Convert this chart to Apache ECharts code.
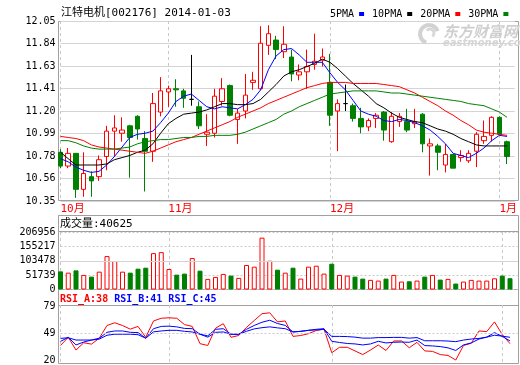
<!DOCTYPE html>
<html><head><meta charset="utf-8">
<script src="https://cdn.jsdelivr.net/npm/echarts@6/dist/echarts.min.js"></script>
<style>html,body{margin:0;padding:0;background:#fff}#c{width:520px;height:365px}</style>
</head><body><div id="c"></div>
<script>
const stockTitle = '江特电机[002176] 2014-01-03';
const dates = ['2013-10-14','2013-10-15','2013-10-16','2013-10-17','2013-10-18','2013-10-21','2013-10-22','2013-10-23','2013-10-24','2013-10-25','2013-10-28','2013-10-29','2013-10-30','2013-10-31',
'2013-11-01','2013-11-04','2013-11-05','2013-11-06','2013-11-07','2013-11-08','2013-11-11','2013-11-12','2013-11-13','2013-11-14','2013-11-15','2013-11-18','2013-11-19','2013-11-20','2013-11-21','2013-11-22','2013-11-25','2013-11-26','2013-11-27','2013-11-28','2013-11-29',
'2013-12-02','2013-12-03','2013-12-04','2013-12-05','2013-12-06','2013-12-09','2013-12-10','2013-12-11','2013-12-12','2013-12-13','2013-12-16','2013-12-17','2013-12-18','2013-12-19','2013-12-20','2013-12-23','2013-12-24','2013-12-25','2013-12-26','2013-12-27','2013-12-30','2013-12-31',
'2014-01-02','2014-01-03'];
const opens  = [10.81,10.68,10.80,10.46,10.58,10.58,10.77,11.01,10.99,11.06,11.15,10.94,10.82,11.19,11.38,11.41,11.39,11.31,11.24,10.98,10.99,11.29,11.44,11.12,11.20,11.47,11.41,11.82,11.87,11.76,11.71,11.54,11.57,11.64,11.68,11.47,11.20,11.27,11.25,11.13,11.05,11.13,11.19,10.91,11.10,11.10,11.08,11.17,10.87,10.87,10.69,10.79,10.76,10.73,10.82,10.92,10.97,11.14,10.91];
const closes = [10.68,10.80,10.46,10.61,10.54,10.74,11.01,11.04,11.02,10.95,11.03,10.82,11.27,11.39,11.41,11.40,11.32,11.31,11.06,11.00,11.34,11.41,11.16,11.18,11.35,11.49,11.84,11.93,11.78,11.83,11.55,11.57,11.62,11.67,11.71,11.16,11.27,11.27,11.13,11.05,11.11,11.16,11.02,11.15,11.15,11.02,11.10,10.89,10.89,10.81,10.79,10.66,10.78,10.80,10.98,10.96,11.14,10.98,10.77];
const lows   = [10.66,10.66,10.38,10.39,10.39,10.54,10.64,10.77,10.91,10.57,10.93,10.44,10.72,11.15,11.24,11.24,11.23,11.25,11.03,10.87,10.95,11.25,11.15,10.89,11.13,11.40,11.40,11.73,11.69,11.70,11.48,11.49,11.41,11.59,11.62,11.06,10.82,11.20,11.10,10.99,11.01,11.04,10.92,10.90,11.05,11.00,11.04,10.81,10.59,10.64,10.62,10.66,10.72,10.71,10.67,10.89,10.91,10.97,10.70];
const highs  = [10.84,10.85,10.80,10.81,10.63,10.78,11.06,11.16,11.14,11.07,11.16,11.01,11.37,11.52,11.44,11.50,11.41,11.73,11.29,11.17,11.41,11.51,11.45,11.22,11.55,11.57,12.00,12.01,11.91,12.00,11.78,11.64,11.78,11.93,11.79,11.74,11.31,11.45,11.27,11.23,11.13,11.18,11.20,11.19,11.18,11.22,11.22,11.18,10.94,10.89,10.89,10.79,10.83,10.83,11.00,11.11,11.15,11.15,10.92];
const volumes = [65300,60660,68860,52450,46380,64220,120240,102400,64220,60660,74930,78500,130950,134510,73860,53520,57090,113100,67790,38180,45310,56020,49950,41750,88130,82060,186600,103470,71360,60660,78500,39250,82060,85630,57090,92770,52450,49950,46380,39250,34610,32110,39250,52450,28540,29610,32110,46380,52450,35680,38180,21410,28540,34610,32110,32110,40320,49950,40625];
const ma5  = [10.75,10.72,10.67,10.64,10.62,10.63,10.69,10.77,10.86,10.95,10.98,10.99,11.01,11.09,11.18,11.29,11.34,11.36,11.30,11.24,11.22,11.24,11.23,11.22,11.26,11.31,11.40,11.59,11.72,11.78,11.79,11.73,11.66,11.66,11.66,11.56,11.47,11.40,11.30,11.20,11.17,11.15,11.11,11.10,11.12,11.11,11.09,11.06,11.02,10.96,10.89,10.80,10.78,10.76,10.80,10.85,10.92,10.97,10.96];
const ma10 = [10.81,10.75,10.69,10.69,10.69,10.69,10.70,10.74,10.76,10.78,10.81,10.83,10.89,10.99,11.08,11.13,11.17,11.18,11.19,11.21,11.24,11.27,11.27,11.26,11.26,11.27,11.31,11.38,11.45,11.53,11.57,11.59,11.62,11.65,11.69,11.66,11.60,11.53,11.46,11.40,11.34,11.27,11.23,11.18,11.14,11.12,11.10,11.09,11.06,11.03,11.01,10.98,10.94,10.91,10.88,10.87,10.87,10.87,10.87];
const ma20 = [10.96,10.95,10.94,10.92,10.88,10.86,10.85,10.84,10.83,10.82,10.81,10.80,10.82,10.85,10.88,10.91,10.93,10.95,10.98,11.01,11.04,11.07,11.10,11.14,11.17,11.20,11.23,11.27,11.30,11.33,11.36,11.39,11.42,11.44,11.46,11.47,11.47,11.47,11.46,11.46,11.46,11.46,11.45,11.44,11.43,11.40,11.37,11.33,11.29,11.25,11.20,11.16,11.11,11.07,11.02,11.00,10.99,10.98,10.97];
const ma30 = [10.92,10.92,10.90,10.87,10.85,10.84,10.84,10.84,10.85,10.86,10.89,10.91,10.92,10.93,10.93,10.94,10.95,10.95,10.96,10.96,10.97,10.97,10.97,10.98,11.00,11.03,11.06,11.09,11.12,11.17,11.20,11.24,11.27,11.30,11.33,11.36,11.37,11.38,11.39,11.39,11.39,11.39,11.38,11.37,11.37,11.36,11.35,11.34,11.33,11.32,11.31,11.30,11.29,11.27,11.26,11.25,11.22,11.19,11.14];
const rsiA = [36,45,31,39,37.5,44,58,61,58,54,57,45,63,66,66.5,66,59,57,38,36,55,60,45,47,56,63.5,71,72,62,63,46,47,49,52.5,54,28,34,34,30,26,31,36.5,30.5,41,41,33.5,39.5,30,29.5,26,25,20,36,38.5,52,51.3,62,48,38];
const rsiB = [40.5,45,36.6,39.8,42,44,50.5,52,52,50.5,50.2,44,54.5,57,57.3,56.5,54.8,54.5,48.4,46.6,53.8,54.5,48.4,48.4,53.8,58.1,61.6,63.8,60.2,58.1,50.9,51.6,52.7,53.8,54.5,40.6,39.3,38.2,37.7,36.6,37.7,40.6,38.8,39.5,39.8,39.5,42,35.9,35.5,34.8,33.4,30.5,36.6,38.8,43.1,45.2,50.2,46,41];
const rsiC = [43.8,44.5,42,42,42,43,47.3,48.4,48.4,48.4,47.9,44,51,52,52.7,52.7,51.6,50.9,48.4,45.2,50.5,50.9,48.4,48.4,51.6,54.3,55.6,56.5,55.4,54.5,50.9,51.6,52.7,53.2,53.8,46,46,45.8,45.2,44.1,44.1,44.7,44.7,44.9,44.9,44.1,44.7,41.2,41.2,41.2,40.9,40.2,42,43.1,43.8,45.2,47.3,46.3,45];
const priceTicks = [10.35,10.5625,10.775,10.9875,11.2,11.4125,11.625,11.8375,12.05];
const priceTickLabels = ['10.35','10.56','10.78','10.99','11.20','11.41','11.63','11.84','12.05'];
const volTicks = [0,51739,103478,155217,206956];
const rsiTicks = [20,49,79];

const FONT = '"DejaVu Sans Mono","Noto Sans CJK SC",monospace';
const RED = '#ff0000', GREEN = '#008000', BLUE = '#0000ff', BORDER = '#a0a0a0';
const cats = dates.concat(['']);
const monthStart = i => i < dates.length && (i === 0 || dates[i].slice(5,7) !== dates[i-1].slice(5,7));
const candle = dates.map((d,i) => [opens[i], closes[i], lows[i], highs[i]]);
const volData = volumes.map((v,i) => ({
  value: v,
  itemStyle: closes[i] >= opens[i] ? {color:'#ffffff', borderColor:RED, borderWidth:1} : {color:GREEN, borderColor:GREEN, borderWidth:1}
}));
const last = a => a[a.length-1];
const L = 60.5, W = 457.25;

const xBase = (gi, labels) => ({
  type:'category', gridIndex:gi, data:cats, boundaryGap:false,
  axisLine:{show:false}, axisTick:{show:false},
  axisLabel: labels ? {show:true, interval:(i)=>monthStart(i), formatter:(v)=> v ? parseInt(v.slice(5,7),10)+'月' : '',
    color:RED, align:'left', margin:3, fontSize:11, fontFamily:FONT} : {show:false},
  splitLine:{show:true, interval:(i)=>monthStart(i), lineStyle:{type:[3,3], color:'#c8c8c8', width:1}}
});
const lbl = {color:'#000', fontSize:10, fontFamily:FONT, margin:5};

const chart = echarts.init(document.getElementById('c'), null, {renderer:'canvas'});
chart.setOption({
  backgroundColor:'#ffffff',
  animation:false,
  title:[
    {text:stockTitle, left:61, top:8, padding:0, textStyle:{fontSize:11, fontWeight:'normal', color:'#000', fontFamily:FONT}},
    {text:'成交量:'+last(volumes), left:60, top:219, padding:0, textStyle:{fontSize:11, fontWeight:'normal', color:'#000', fontFamily:FONT}},
    {text:'{a|RSI_A:'+Math.round(last(rsiA))+'} {b|RSI_B:'+Math.round(last(rsiB))+'} {c|RSI_C:'+Math.round(last(rsiC))+'}', left:60, top:294, padding:0,
      textStyle:{fontSize:10, fontFamily:FONT, rich:{a:{color:RED,fontSize:10,fontFamily:FONT}, b:{color:BLUE,fontSize:10,fontFamily:FONT}, c:{color:BLUE,fontSize:10,fontFamily:FONT}}}}
  ],
  legend:{data:['5PMA','10PMA','20PMA','30PMA'], left:330, top:9, width:190, align:'right', icon:'rect', itemWidth:5, itemHeight:4, itemGap:8,
    selectedMode:false, padding:0, textStyle:{fontSize:10, fontFamily:FONT, color:'#000'}},
  graphic:[
    {type:'rect', z:-1, shape:{x:58.5, y:21.5, width:460, height:179}, style:{fill:'none', stroke:BORDER, lineWidth:1}},
    {type:'rect', z:-1, shape:{x:58.5, y:215.5, width:460, height:74}, style:{fill:'none', stroke:BORDER, lineWidth:1}},
    {type:'line', z:-1, shape:{x1:58.5, y1:231.5, x2:518.5, y2:231.5}, style:{stroke:BORDER, lineWidth:1}},
    {type:'rect', z:-1, shape:{x:58.5, y:289.5, width:460, height:74}, style:{fill:'none', stroke:BORDER, lineWidth:1}},
    {type:'line', z:-1, shape:{x1:58.5, y1:305.5, x2:518.5, y2:305.5}, style:{stroke:BORDER, lineWidth:1}},
    {type:'arc', z:-1, shape:{cx:429, cy:34, r:9, startAngle:Math.PI*0.6, endAngle:Math.PI*1.9}, style:{fill:'none', stroke:'#d2d2d2', lineWidth:4}},
    {type:'arc', z:-1, shape:{cx:430, cy:33, r:4, startAngle:Math.PI*1.2, endAngle:Math.PI*2.3}, style:{fill:'none', stroke:'#d8d8d8', lineWidth:3}},
    {type:'text', z:-1, left:443, top:24, style:{text:'东方财富网', font:'bold italic 15px "Noto Sans CJK SC"', fill:'#cfcfcf'}},
    {type:'text', z:-1, left:443, top:38, style:{text:'eastmoney.com', font:'bold italic 10px "DejaVu Sans"', fill:'#d6d6d6'}}
  ],
  grid:[
    {left:L, top:21, width:W, height:180},
    {left:L, top:232, width:W, height:57.5},
    {left:L, top:305, width:W, height:59}
  ],
  xAxis:[ xBase(0,true), xBase(1,false), xBase(2,false) ],
  yAxis:[
    {type:'value', gridIndex:0, min:priceTicks[0], max:priceTicks[priceTicks.length-1],
      axisLine:{show:false}, axisTick:{show:false, customValues:priceTicks},
      axisLabel:Object.assign({customValues:priceTicks, formatter:(v)=>{const k=priceTicks.findIndex(t=>Math.abs(t-v)<1e-6); return k>=0?priceTickLabels[k]:'';}}, lbl),
      splitLine:{show:true, lineStyle:{color:'#d4d4d4', width:1}}},
    {type:'value', gridIndex:1, min:volTicks[0], max:volTicks[volTicks.length-1], interval:volTicks[1],
      axisLine:{show:false}, axisTick:{show:false}, axisLabel:Object.assign({formatter:(v)=>String(Math.round(v))}, lbl),
      splitLine:{show:true, lineStyle:{color:'#c8c8c8', type:[2,2], width:1}}},
    {type:'value', gridIndex:2, min:17.3, max:80.6,
      axisLine:{show:false}, axisTick:{show:false, customValues:rsiTicks},
      axisLabel:Object.assign({customValues:rsiTicks, formatter:(v)=>String(Math.round(v))}, lbl),
      splitLine:{show:false}}
  ],
  series:[
    {type:'candlestick', name:'K', xAxisIndex:0, yAxisIndex:0, data:candle, barWidth:5, clip:false,
      itemStyle:{color:'#ffffff', color0:GREEN, borderColor:RED, borderColor0:GREEN, borderColorDoji:'#000000', borderWidth:1}},
    {type:'line', name:'5PMA', xAxisIndex:0, yAxisIndex:0, data:ma5, showSymbol:false, color:BLUE, lineStyle:{width:1, color:BLUE}},
    {type:'line', name:'10PMA', xAxisIndex:0, yAxisIndex:0, data:ma10, showSymbol:false, color:'#000000', lineStyle:{width:1, color:'#000000'}},
    {type:'line', name:'20PMA', xAxisIndex:0, yAxisIndex:0, data:ma20, showSymbol:false, color:RED, lineStyle:{width:1, color:RED}},
    {type:'line', name:'30PMA', xAxisIndex:0, yAxisIndex:0, data:ma30, showSymbol:false, color:GREEN, lineStyle:{width:1, color:GREEN}},
    {type:'bar', name:'VOL', xAxisIndex:1, yAxisIndex:1, data:volData, barWidth:5, clip:false,
      markLine:{silent:true, symbol:'none', label:{show:false}, lineStyle:{color:'#d4d4d4', type:'solid', width:1}, data:[{yAxis:volTicks[2]}]}},
    {type:'line', name:'RSI_A', xAxisIndex:2, yAxisIndex:2, data:rsiA, showSymbol:false, lineStyle:{width:1, color:RED},
      markLine:{silent:true, symbol:'none', label:{show:false}, lineStyle:{color:'#c8c8c8', type:[2,2], width:1}, data:[{yAxis:rsiTicks[1]}]}},
    {type:'line', name:'RSI_B', xAxisIndex:2, yAxisIndex:2, data:rsiB, showSymbol:false, lineStyle:{width:1, color:BLUE}},
    {type:'line', name:'RSI_C', xAxisIndex:2, yAxisIndex:2, data:rsiC, showSymbol:false, lineStyle:{width:1, color:BLUE}}
  ]
});
</script></body></html>
